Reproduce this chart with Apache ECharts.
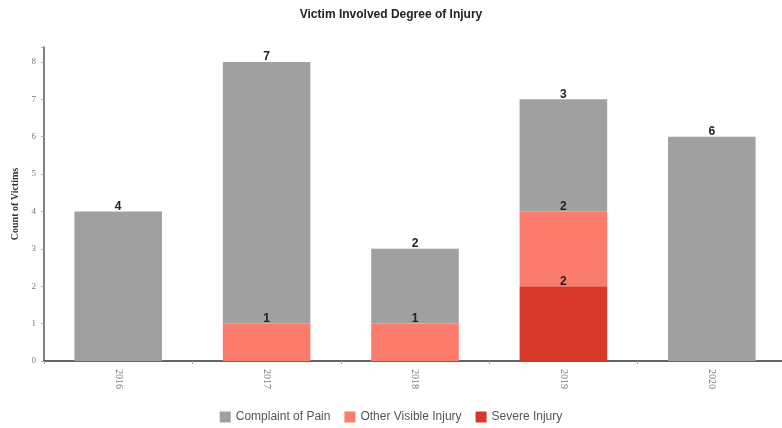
<!DOCTYPE html>
<html><head><meta charset="utf-8">
<script src="https://cdn.jsdelivr.net/npm/echarts@6/dist/echarts.min.js"></script>
<style>html,body{margin:0;padding:0;background:#fff}#c{width:782px;height:428px}</style>
</head><body><div id="c"></div>
<script>
const categories = ['2016', '2017', '2018', '2019', '2020'];
const complaintOfPain = [4, 7, 2, 3, 6];
const otherVisibleInjury = [0, 1, 1, 2, 0];
const severeInjury = [0, 0, 0, 2, 0];
const seriesNames = ['Complaint of Pain', 'Other Visible Injury', 'Severe Injury'];
const colors = ['#a0a0a0', '#fb7b6c', '#d8382a'];

const chart = echarts.init(document.getElementById('c'));
const lbl = {
  show: true, position: 'top', distance: -1, color: '#222', fontSize: 12,
  fontFamily: 'Liberation Sans', fontWeight: 'bold',
  formatter: p => p.value ? p.value : ''
};
function mk(name, data, color) {
  return { name, type: 'bar', stack: 'a', data, barWidth: '59%',
    itemStyle: { color }, label: lbl, z: 2 };
}
chart.setOption({
  animation: false,
  title: { text: 'Victim Involved Degree of Injury', left: 'center', top: 4,
    textStyle: { fontSize: 12, fontWeight: 'bold', color: '#222', fontFamily: 'Liberation Sans' } },
  legend: { data: seriesNames, bottom: 0, itemWidth: 11, itemHeight: 11, itemGap: 14, icon: 'rect',
    textStyle: { fontSize: 12, color: '#555', fontFamily: 'Liberation Sans' } },
  grid: { left: 44, width: 742, top: 47, height: 314, containLabel: false, outerBoundsMode: 'none' },
  xAxis: { type: 'category', data: categories,
    axisLine: { lineStyle: { color: '#333', width: 1.5 } },
    axisTick: { show: true, length: 3, lineStyle: { color: '#aaa' } },
    axisLabel: { rotate: -90, fontSize: 10, color: '#777', fontFamily: 'Liberation Serif', margin: 8 } },
  yAxis: { type: 'value', min: 0, max: 8.4, interval: 1,
    name: 'Count of Victims', nameLocation: 'middle', nameGap: 23, nameRotate: 90,
    nameTextStyle: { fontSize: 10, fontFamily: 'Liberation Serif', color: '#333', fontWeight: 'bold' },
    axisLine: { show: true, lineStyle: { color: '#555', width: 1.5 } },
    axisTick: { show: true, length: 3, lineStyle: { color: '#aaa' } },
    splitLine: { show: false },
    axisLabel: { fontSize: 9, color: '#777', fontFamily: 'Liberation Serif', margin: 8,
      formatter: v => Number.isInteger(v) ? v : '' } },
  series: [
    mk(seriesNames[2], severeInjury, colors[2]),
    mk(seriesNames[1], otherVisibleInjury, colors[1]),
    mk(seriesNames[0], complaintOfPain, colors[0])
  ]
});
</script></body></html>
